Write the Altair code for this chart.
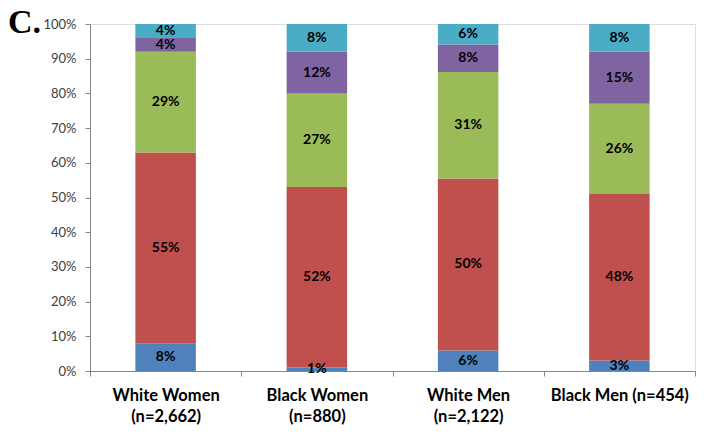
import altair as alt
import pandas as pd

categories = ["White Women|(n=2,662)", "Black Women|(n=880)", "White Men|(n=2,122)", "Black Men (n=454)"]
seg1 = [8, 1, 6, 3]
seg2 = [55, 52, 50, 48]
seg3 = [29, 27, 31, 26]
seg4 = [4, 12, 8, 15]
seg5 = [4, 8, 6, 8]
series = [seg1, seg2, seg3, seg4, seg5]
colors = ["#4F81BD", "#C0504D", "#9BBB59", "#8064A2", "#4BACC6"]
y_ticks = [0, 0.1, 0.2, 0.3, 0.4, 0.5, 0.6, 0.7, 0.8, 0.9, 1.0]
panel_label = ["C."]

rows = []
for si, vals in enumerate(series):
    for ci, cat in enumerate(categories):
        rows.append({"cat": cat, "seg": si, "value": vals[ci]})
df = pd.DataFrame(rows)

base = alt.Chart(df).transform_stack(
    stack="value", groupby=["cat"], as_=["y0", "y1"], offset="normalize",
    sort=[alt.SortField("seg", order="ascending")]
).transform_calculate(
    mid="(datum.y0 + datum.y1) / 2",
    lab="datum.value + '%'"
)

xenc = alt.X("cat:N", sort=categories, title=None,
             scale=alt.Scale(paddingInner=0, paddingOuter=0),
             axis=alt.Axis(labelAngle=0, tickBand="extent", labelExpr="split(datum.label, '|')",
                           labelFont="Lato", labelFontSize=16.5, labelFontWeight="bold",
                           labelColor="#000000", labelLineHeight=21, labelPadding=11,
                           domainColor="#868686", tickColor="#868686", tickSize=5, grid=False))

yaxis = alt.Axis(values=y_ticks, format=".0%", grid=False, labelOverlap=False,
                 labelFont="Lato", labelFontSize=13, labelColor="#404040",
                 labelPadding=9, domainColor="#868686", tickColor="#868686", tickSize=5)
yscale = alt.Scale(domain=[0, 1], nice=False)

bars = base.mark_bar(width=alt.RelativeBandSize(0.4)).encode(
    x=xenc,
    y=alt.Y("y0:Q", title=None, scale=yscale, axis=yaxis),
    y2="y1:Q",
    color=alt.Color("seg:O", scale=alt.Scale(domain=[0, 1, 2, 3, 4], range=colors), legend=None),
)

texts = base.mark_text(font="Lato", fontSize=14, fontWeight="bold", color="#000000",
                       baseline="middle", align="center").encode(
    x=alt.X("cat:N", sort=categories),
    y=alt.Y("mid:Q", title=None, scale=yscale, axis=yaxis),
    text="lab:N",
)

letter = alt.Chart(pd.DataFrame({"t": panel_label})).mark_text(
    font="Liberation Serif", fontSize=34, fontWeight="bold", color="#000000",
    align="left", baseline="alphabetic"
).encode(x=alt.value(-82), y=alt.value(9), text="t:N")

chart = alt.layer(bars, texts, letter).properties(
    width=605, height=347,
    autosize=alt.AutoSizeParams(type="none"),
    padding={"left": 82, "top": 16, "right": 1, "bottom": 56},
).configure_view(stroke=None).configure(background="white")

chart.save("out.html", embed_options={"renderer": "svg", "actions": False})
